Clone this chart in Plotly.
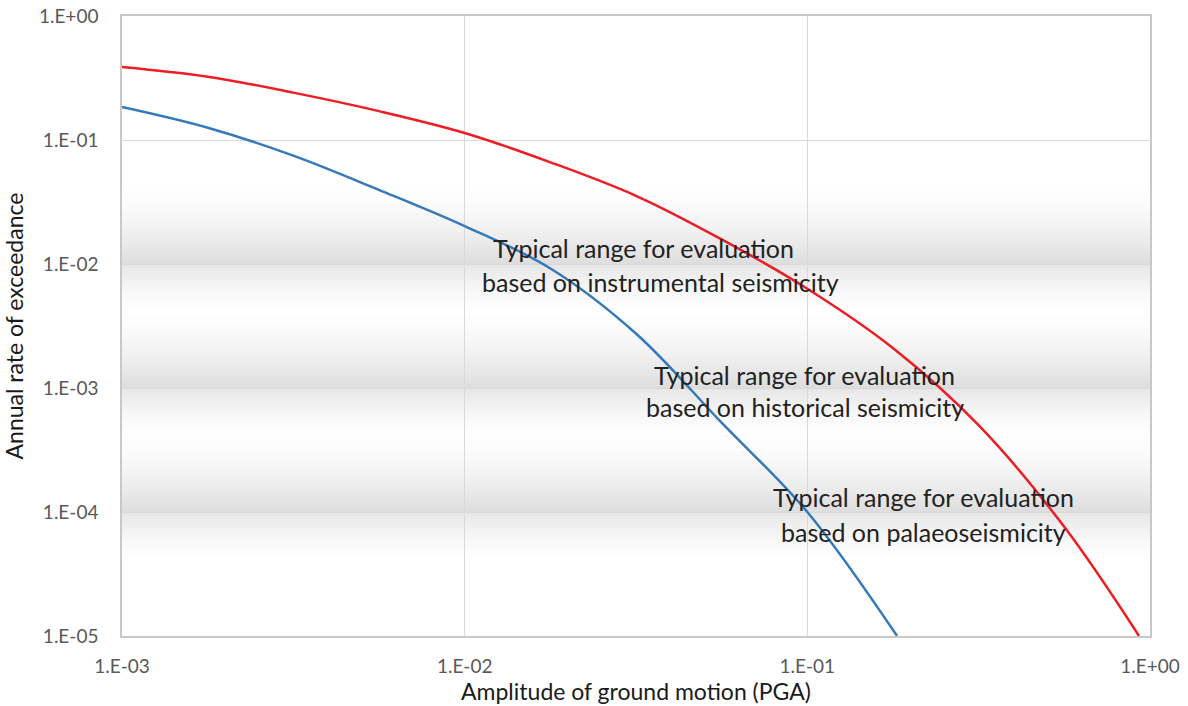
import numpy as np
import plotly.graph_objects as go

# Hazard curves: annual rate of exceedance vs PGA (g)
blue_pga = [0.001, 0.00178, 0.00316, 0.00562, 0.01, 0.0178, 0.0316, 0.0562,
            0.1, 0.1828]
blue_rate = [0.1845, 0.1256, 0.0748, 0.0396, 0.0202, 0.0092, 0.00275,
             0.000525, 0.0001, 1e-5]

red_pga = [0.001, 0.00178, 0.00316, 0.00562, 0.01, 0.0178, 0.0316, 0.0562,
           0.1, 0.178, 0.316, 0.562, 0.929]
red_rate = [0.388, 0.324, 0.241, 0.171, 0.114, 0.0661, 0.0355, 0.0158,
            0.00631, 0.00209, 0.000501, 7.59e-5, 1e-5]

x_ticks = [1e-3, 1e-2, 1e-1, 1e0]
x_labels = ["1.E-03", "1.E-02", "1.E-01", "1.E+00"]
y_ticks = [1e-5, 1e-4, 1e-3, 1e-2, 1e-1, 1e0]
y_labels = ["1.E-05", "1.E-04", "1.E-03", "1.E-02", "1.E-01", "1.E+00"]

# Decades around which the shaded evaluation ranges are centred
band_decades = [-2, -3, -4]
range_notes = [
    ("Typical range for evaluation", "based on instrumental seismicity"),
    ("Typical range for evaluation", "based on historical seismicity"),
    ("Typical range for evaluation", "based on palaeoseismicity"),
]

Y_MIN, Y_MAX = -5.0, 0.0


def to_paper(logv):
    return (logv - Y_MIN) / (Y_MAX - Y_MIN)


def shade(logv):
    """Grey intensity (0..1) of the soft bands around each decade line."""
    f = 0.0
    for c in band_decades:
        d = logv - c
        if 0 <= d <= 0.65:  # above the gridline: fade in towards the line
            f = max(f, (1 - d / 0.65) ** 1.6)
        elif -0.42 <= d < 0:  # below the gridline: quick fade out
            f = max(f, 0.75 * (1 + d / 0.42) ** 1.6)
    return f


shapes = []
step = 0.01
for lv in np.arange(-4.6, -1.3, step):
    f = shade(lv + step / 2)
    if f < 0.01:
        continue
    g = int(round(255 - 34 * f))
    shapes.append(dict(
        type="rect", layer="below", xref="paper", yref="paper",
        x0=0, x1=1, y0=to_paper(lv), y1=to_paper(lv + step * 1.6),
        fillcolor=f"rgb({g},{g},{g})", line=dict(width=0),
    ))

fig = go.Figure()
fig.add_trace(go.Scatter(
    x=blue_pga, y=blue_rate, mode="lines",
    line=dict(color="#3579BA", width=2.5, shape="spline", smoothing=1.0),
    showlegend=False,
))
fig.add_trace(go.Scatter(
    x=red_pga, y=red_rate, mode="lines",
    line=dict(color="#EE1C24", width=2.5, shape="spline", smoothing=1.0),
    showlegend=False,
))

# Band captions (centre x / middle y in paper units)
note_pos = [
    ((0.507, 0.626), (0.524, 0.571)),
    ((0.664, 0.421), (0.664, 0.369)),
    ((0.780, 0.224), (0.780, 0.167)),
]
annotations = []
for (l1, l2), (p1, p2) in zip(range_notes, note_pos):
    for txt, (px, py) in ((l1, p1), (l2, p2)):
        annotations.append(dict(
            text=txt, xref="paper", yref="paper", x=px, y=py,
            xanchor="center", yanchor="middle", showarrow=False,
            font=dict(family="Lato", size=25, color="#222222"),
        ))

axis_common = dict(
    type="log", showgrid=True, gridcolor="#D9D9D9", gridwidth=1,
    showline=True, linecolor="#C8C8C8", linewidth=1.5, mirror=True,
    ticks="", zeroline=False, automargin=False,
    tickfont=dict(family="Lato", size=19, color="#595959"),
)

fig.update_layout(
    width=1188, height=706,
    margin=dict(l=122, r=38, t=16, b=70),
    paper_bgcolor="white", plot_bgcolor="white",
    shapes=shapes, annotations=annotations,
    xaxis=dict(
        axis_common, range=[-3, 0], tickvals=x_ticks, ticktext=x_labels,
        ticklabelstandoff=12,
        title=dict(text="Amplitude of ground motion (PGA)", standoff=6,
                   font=dict(family="Lato", size=23, color="#1A1A1A")),
    ),
    yaxis=dict(
        axis_common, range=[Y_MIN, Y_MAX], tickvals=y_ticks, ticktext=y_labels,
        ticklabelstandoff=18,
        title=dict(text="Annual rate of exceedance", standoff=10,
                   font=dict(family="Lato", size=23, color="#1A1A1A")),
    ),
)

fig.write_html("out.html")
